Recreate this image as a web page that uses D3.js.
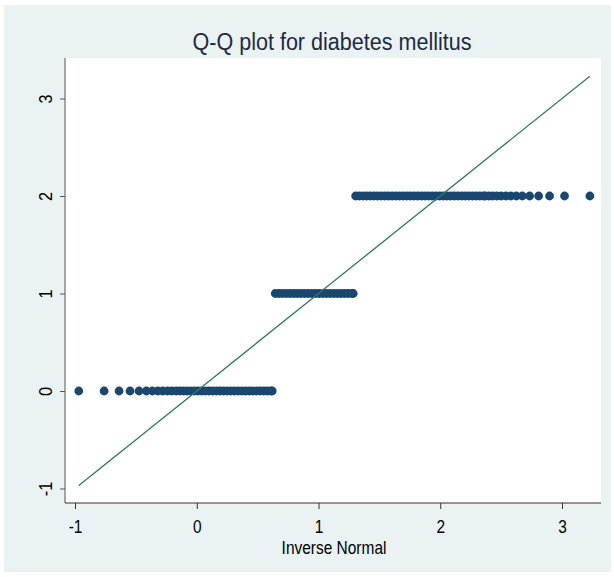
<!DOCTYPE html>
<html>
<head>
<meta charset="utf-8">
<script src="https://cdn.jsdelivr.net/npm/d3@7"></script>
<style>
  html, body { margin: 0; padding: 0; background: #ffffff; }
  svg { display: block; }
</style>
</head>
<body>
<svg id="chart" width="614" height="577"></svg>
<script>
// Inverse-normal positions of observations, grouped by diabetes mellitus value
const group0Quantiles = [
  -0.969, -0.761, -0.638, -0.548, -0.474, -0.414, -0.365, -0.32, -0.28, -0.24, -0.205, -0.17, -0.14,
  -0.11, -0.08, -0.05, -0.02, 0.01, 0.04, 0.07, 0.10, 0.13, 0.16, 0.19, 0.22, 0.25, 0.28,
  0.31, 0.34, 0.37, 0.40, 0.43, 0.46, 0.49, 0.52, 0.55, 0.58, 0.61, 0.62
];
const group1Quantiles = [
  0.645, 0.675, 0.705, 0.735, 0.765, 0.795, 0.825, 0.855, 0.885, 0.915, 0.945, 0.975,
  1.005, 1.035, 1.065, 1.095, 1.125, 1.155, 1.185, 1.215, 1.245, 1.275, 1.285
];
const group2Quantiles = [
  1.305, 1.335, 1.365, 1.395, 1.425, 1.455, 1.485, 1.515, 1.545, 1.575, 1.605, 1.635,
  1.665, 1.695, 1.725, 1.755, 1.785, 1.815, 1.845, 1.875, 1.905, 1.935, 1.965, 1.995,
  2.025, 2.055, 2.085, 2.115, 2.145, 2.175, 2.205, 2.235, 2.265, 2.295, 2.325, 2.355, 2.37,
  2.40, 2.43, 2.465, 2.50, 2.54, 2.58, 2.625, 2.674, 2.734, 2.808, 2.898, 3.021, 3.229
];
const groupValues = [0, 1, 2];

// Reference line y = x across the range of the inverse normal
const refLine = [-0.969, 3.229];

const xTicks = [-1, 0, 1, 2, 3];
const yTicks = [-1, 0, 1, 2, 3];

const titleText = "Q-Q plot for diabetes mellitus";
const xLabel = "Inverse Normal";

const points = [group0Quantiles, group1Quantiles, group2Quantiles]
  .flatMap((qs, i) => qs.map(q => ({ q, v: groupValues[i] })));

const svg = d3.select("#chart");
const W = 614, H = 577;
const plot = { left: 65, right: 601, top: 58, bottom: 503 };

const x = d3.scaleLinear().domain([-1, 3]).range([75, 562]);
const y = d3.scaleLinear().domain([-1, 3]).range([488.5, 98.5]);

// Narrow sans look: regular sans squeezed horizontally
const font = "'Liberation Sans', Arial, sans-serif";
const squeeze = 0.86;

// Graph region
svg.append("rect").attr("x", 0).attr("y", 0).attr("width", W).attr("height", H).attr("fill", "#ffffff");
svg.append("rect").attr("x", 4).attr("y", 5).attr("width", 607).attr("height", 567).attr("fill", "#eaf2f3");

// Plot region
svg.append("rect")
  .attr("x", plot.left).attr("y", plot.top)
  .attr("width", plot.right - plot.left).attr("height", plot.bottom - plot.top)
  .attr("fill", "#ffffff");

// Markers
svg.append("g").selectAll("circle").data(points).join("circle")
  .attr("cx", d => x(d.q))
  .attr("cy", d => y(d.v))
  .attr("r", 4.4)
  .attr("fill", "#1a476f");

// Reference line
svg.append("line")
  .attr("x1", x(refLine[0])).attr("y1", y(refLine[0]))
  .attr("x2", x(refLine[1])).attr("y2", y(refLine[1]))
  .attr("stroke", "#2e7a64").attr("stroke-width", 1.3);

const tickFmt = d => String(d);

// Axes
const yAxis = svg.append("g")
  .attr("transform", `translate(${plot.left},0)`)
  .call(d3.axisLeft(y).tickValues(yTicks).tickSize(5).tickFormat(tickFmt));
yAxis.select(".domain").attr("d", `M0,${plot.top}V${plot.bottom}`).attr("stroke", "#555");
yAxis.selectAll(".tick line").attr("stroke", "#555");
yAxis.selectAll(".tick text")
  .attr("transform", `rotate(-90) scale(${squeeze},1)`)
  .attr("x", 0).attr("y", -13)
  .attr("dy", 0)
  .attr("text-anchor", "middle")
  .attr("fill", "#000")
  .style("font-family", font).style("font-size", "19px");

const xAxis = svg.append("g")
  .attr("transform", `translate(0,${plot.bottom})`)
  .call(d3.axisBottom(x).tickValues(xTicks).tickSize(6).tickFormat(tickFmt));
xAxis.select(".domain").attr("d", `M${plot.left},0H${plot.right}`).attr("stroke", "#333");
xAxis.selectAll(".tick line").attr("stroke", "#333");
xAxis.selectAll(".tick text")
  .attr("transform", `scale(${squeeze},1)`)
  .attr("y", 30).attr("dy", 0)
  .attr("fill", "#000")
  .style("font-family", font).style("font-size", "18px");

// Titles
svg.append("text")
  .attr("transform", `translate(332,50) scale(0.88,1)`)
  .attr("text-anchor", "middle")
  .attr("fill", "#1c2a45")
  .style("font-family", font).style("font-size", "24.5px")
  .text(titleText);

svg.append("text")
  .attr("transform", `translate(334,554) scale(${squeeze},1)`)
  .attr("text-anchor", "middle")
  .attr("fill", "#000")
  .style("font-family", font).style("font-size", "18px")
  .text(xLabel);
</script>
</body>
</html>
